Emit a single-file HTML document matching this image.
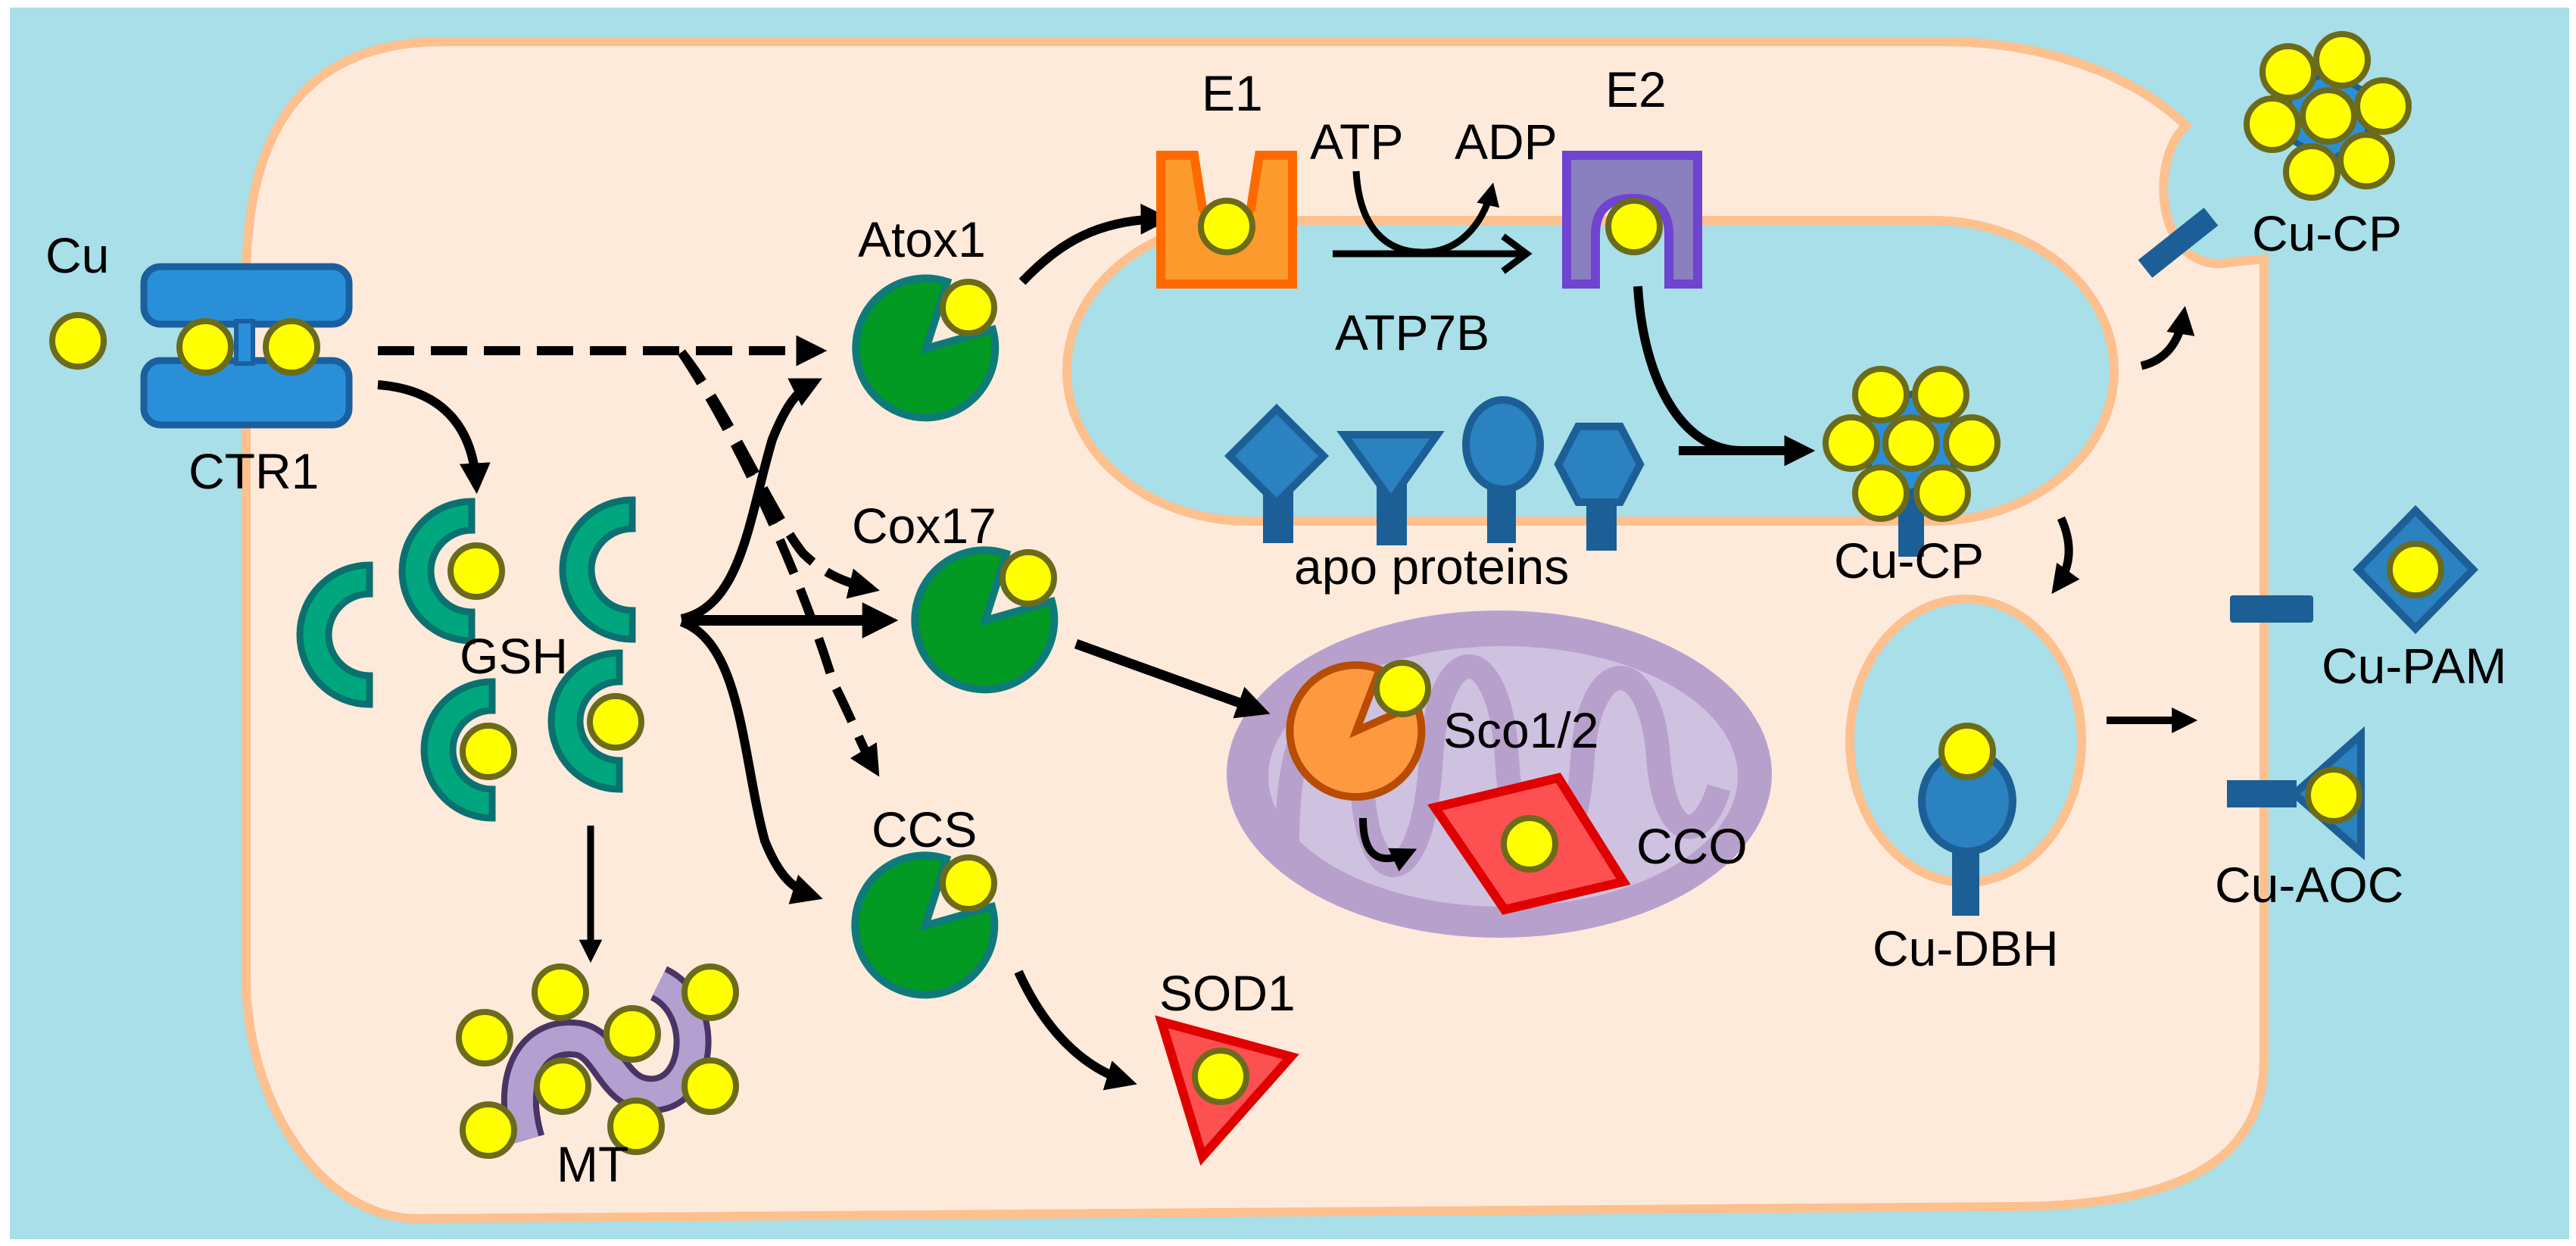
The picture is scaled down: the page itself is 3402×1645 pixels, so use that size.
<!DOCTYPE html>
<html><head><meta charset="utf-8"><style>html,body{margin:0;padding:0;background:#fff}svg{display:block}text{font-family:"Liberation Sans",Arial,sans-serif;font-size:66px;fill:#000}</style></head>
<body>
<svg width="3402" height="1645" viewBox="0 0 3402 1645" xmlns="http://www.w3.org/2000/svg">
<defs>
<marker id="ah" viewBox="0 0 10 10" refX="7" refY="5" markerWidth="3.4" markerHeight="3.4" orient="auto" markerUnits="strokeWidth"><path d="M0,0 L10,5 L0,10 z" fill="#000"/></marker>
<g id="cu"><circle r="34" fill="#ffff00" stroke="#6b6b1a" stroke-width="8"/></g>
</defs>
<rect x="0" y="0" width="3402" height="1645" fill="#fff"/>
<rect x="13" y="10" width="3380" height="1626" fill="#a8dfe8"/>
<!-- cell -->
<path d="M585,55 L2567,55 C2700,55 2820,100 2887,166 C2850,200 2845,290 2887,332 C2910,350 2930,350 2948,346 L2990,342 L2990,1397 C2990,1520 2900,1593 2654,1593 L553,1609 C420,1609 325,1450 325,1291 L325,370 C325,150 420,55 585,55 Z" fill="#feeadb" stroke="#fdc08f" stroke-width="12"/>
<!-- ER -->
<rect x="1409" y="291" width="1383" height="397" rx="240" ry="198" fill="#a8dfe8" stroke="#fdc08f" stroke-width="12"/>
<!-- mitochondrion -->
<ellipse cx="1980" cy="1022" rx="360" ry="216" fill="#b7a1cc"/>
<ellipse cx="1985" cy="1025" rx="310" ry="172" fill="#cfc2e0"/>
<path d="M1700,1110 C1700,900 1790,880 1800,1050 C1810,1180 1880,1180 1890,1000 C1900,840 1980,840 1990,1000 C2000,1180 2080,1180 2090,1000 C2100,860 2180,860 2190,1000 C2200,1120 2250,1110 2270,1040" fill="none" stroke="#b7a1cc" stroke-width="32"/>
<!-- DBH vesicle -->
<ellipse cx="2596" cy="978" rx="153" ry="187" fill="#a8dfe8" stroke="#fdc08f" stroke-width="12"/>

<!-- CTR1 -->
<rect x="190" y="352" width="271" height="76" rx="22" fill="#2a8fd9" stroke="#1a5f9e" stroke-width="9"/>
<rect x="190" y="476" width="271" height="85" rx="22" fill="#2a8fd9" stroke="#1a5f9e" stroke-width="9"/>
<rect x="312" y="424" width="22" height="56" fill="#2a8fd9" stroke="#1a5f9e" stroke-width="6"/>
<use href="#cu" x="103" y="450"/>
<use href="#cu" x="271" y="458"/>
<use href="#cu" x="385" y="458"/>
<text x="60" y="360">Cu</text>
<text x="249" y="645">CTR1</text>

<!-- arrows left -->
<path d="M499,463 L1080,463" fill="none" stroke="#000" stroke-width="12" stroke-dasharray="48 22" marker-end="url(#ah)"/>
<path d="M900,465 C960,540 1020,680 1060,730 C1090,760 1120,770 1150,777" fill="none" stroke="#000" stroke-width="12" stroke-dasharray="48 22" marker-end="url(#ah)"/>
<path d="M900,465 C990,600 1070,800 1100,900 C1130,960 1140,990 1155,1015" fill="none" stroke="#000" stroke-width="12" stroke-dasharray="48 22" marker-end="url(#ah)"/>
<path d="M499,508 C590,515 625,570 629,640" fill="none" stroke="#000" stroke-width="12" marker-end="url(#ah)"/>
<path d="M900,817 C980,800 990,680 1020,580 C1040,530 1055,515 1075,505" fill="none" stroke="#000" stroke-width="12" marker-end="url(#ah)"/>
<path d="M900,819 L1172,819" fill="none" stroke="#000" stroke-width="14" marker-end="url(#ah)"/>
<path d="M900,821 C980,850 980,1000 1010,1110 C1030,1160 1050,1175 1075,1183" fill="none" stroke="#000" stroke-width="12" marker-end="url(#ah)"/>
<path d="M780,1090 L780,1262" fill="none" stroke="#000" stroke-width="9" marker-end="url(#ah)"/>

<!-- GSH crescents -->
<g fill="#00a67e" stroke="#0b7070" stroke-width="9">
<path d="M488,746 A92,92 0 0 0 488,930 L488,892 A54,54 0 0 1 488,784 Z"/>
<path d="M623,662 A92,92 0 0 0 623,846 L623,808 A54,54 0 0 1 623,700 Z"/>
<path d="M835,660 A92,92 0 0 0 835,844 L835,806 A54,54 0 0 1 835,698 Z"/>
<path d="M650,900 A90,90 0 0 0 650,1080 L650,1042 A52,52 0 0 1 650,938 Z"/>
<path d="M818,862 A90,90 0 0 0 818,1042 L818,1004 A52,52 0 0 1 818,900 Z"/>
</g>
<use href="#cu" x="629" y="754"/>
<use href="#cu" x="645" y="992"/>
<use href="#cu" x="813" y="953"/>
<text x="607" y="889">GSH</text>

<!-- MT -->
<path d="M870,1298 C935,1330 925,1440 865,1445 C810,1450 805,1380 765,1372 C705,1362 670,1420 695,1505" fill="none" stroke="#4a3466" stroke-width="50"/>
<path d="M870,1298 C935,1330 925,1440 865,1445 C810,1450 805,1380 765,1372 C705,1362 670,1420 695,1505" fill="none" stroke="#b3a0d0" stroke-width="34"/>
<use href="#cu" x="740" y="1310"/>
<use href="#cu" x="640" y="1370"/>
<use href="#cu" x="938" y="1310"/>
<use href="#cu" x="835" y="1365"/>
<use href="#cu" x="743" y="1434"/>
<use href="#cu" x="938" y="1434"/>
<use href="#cu" x="645" y="1492"/>
<use href="#cu" x="840" y="1487"/>
<text x="735" y="1560">MT</text>

<!-- pacman chaperones -->
<g fill="#029a22" stroke="#0f7a7a" stroke-width="10" stroke-linejoin="miter">
<path d="M1223,460 L1311,435 A92,92 0 1 1 1251,372 Z"/>
<path d="M1301,819 L1389,794 A92,92 0 1 1 1329,731 Z"/>
<path d="M1222,1222 L1310,1197 A92,92 0 1 1 1250,1134 Z"/>
</g>
<use href="#cu" x="1279" y="406"/>
<use href="#cu" x="1358" y="763"/>
<use href="#cu" x="1279" y="1166"/>
<text x="1133" y="339">Atox1</text>
<text x="1125" y="717">Cox17</text>
<text x="1151" y="1118">CCS</text>

<path d="M1350,372 C1400,320 1450,290 1535,289" fill="none" stroke="#000" stroke-width="12" marker-end="url(#ah)"/>
<path d="M1421,850 L1665,938" fill="none" stroke="#000" stroke-width="13" marker-end="url(#ah)"/>
<path d="M1345,1283 C1380,1360 1430,1410 1490,1428" fill="none" stroke="#000" stroke-width="12" marker-end="url(#ah)"/>

<!-- SOD1 -->
<path d="M1534,1349 L1705,1395 L1588,1527 Z" fill="#fd5050" stroke="#e00000" stroke-width="12" stroke-linejoin="miter"/>
<use href="#cu" x="1612" y="1421"/>
<text x="1531" y="1334">SOD1</text>

<!-- Sco1/2 & CCO -->
<path d="M1791,965 L1870,930 A87,87 0 1 1 1822,884 Z" fill="#fd9a40" stroke="#b84c00" stroke-width="10"/>
<use href="#cu" x="1852" y="909"/>
<text x="1906" y="987">Sco1/2</text>
<path d="M1895,1066 L2058,1027 L2144,1164 L1987,1201 Z" fill="#fd5050" stroke="#e00000" stroke-width="12"/>
<use href="#cu" x="2020" y="1114"/>
<text x="2161" y="1140">CCO</text>
<path d="M1800,1080 C1800,1140 1830,1140 1862,1125" fill="none" stroke="#000" stroke-width="10" marker-end="url(#ah)"/>

<!-- E1 / E2 -->
<path d="M1533,205 L1577,205 L1588,275 Q1620,330 1652,275 L1663,205 L1707,205 L1707,375 L1533,375 Z" fill="#fd9a2e" stroke="#ff6a00" stroke-width="12"/>
<use href="#cu" x="1620" y="299"/>
<text x="1587" y="146">E1</text>
<path d="M2069,205 L2242,205 L2242,375 L2204,375 L2204,310 Q2204,262 2156,262 Q2107,262 2107,310 L2107,375 L2069,375 Z" fill="#8a7fbf" stroke="#6e44d0" stroke-width="12"/>
<use href="#cu" x="2158" y="299"/>
<text x="2120" y="141">E2</text>
<text x="1730" y="210">ATP</text>
<text x="1921" y="210">ADP</text>
<path d="M1791,226 C1795,300 1830,335 1883,333 C1935,331 1962,285 1970,250" fill="none" stroke="#000" stroke-width="9" marker-end="url(#ah)"/>
<path d="M1760,335 L2015,335 M1985,312 L2016,335 L1985,358" fill="none" stroke="#000" stroke-width="9"/>
<text x="1763" y="462">ATP7B</text>

<!-- apo proteins -->
<g fill="#2a82c0" stroke="#1c5f96" stroke-width="10">
<rect x="1673" y="640" width="30" height="72" fill="#1c5f96"/>
<rect x="1823" y="640" width="30" height="75" fill="#1c5f96"/>
<rect x="1969" y="630" width="28" height="82" fill="#1c5f96"/>
<rect x="2100" y="650" width="30" height="72" fill="#1c5f96"/>
<polygon points="1686,540 1748,602 1686,664 1624,602"/>
<polygon points="1775,574 1898,574 1837,660"/>
<ellipse cx="1985" cy="587" rx="49" ry="59"/>
<polygon points="2084,563 2140,563 2166,613 2140,663 2084,663 2058,613"/>
</g>
<text x="1709" y="771">apo proteins</text>
<path d="M2163,378 C2170,500 2220,595 2300,595" fill="none" stroke="#000" stroke-width="12"/>
<path d="M2217,595 L2385,595" fill="none" stroke="#000" stroke-width="12" marker-end="url(#ah)"/>

<!-- Cu-CP in ER -->
<rect x="2507" y="640" width="34" height="95" fill="#1c5f96"/>
<polygon points="2524,520 2580,552 2580,618 2524,650 2468,618 2468,552" fill="#2a8fd9" stroke="#1c5f96" stroke-width="8"/>
<use href="#cu" x="2484" y="521"/><use href="#cu" x="2563" y="521"/>
<use href="#cu" x="2445" y="585"/><use href="#cu" x="2524" y="585"/><use href="#cu" x="2604" y="585"/>
<use href="#cu" x="2484" y="651"/><use href="#cu" x="2565" y="651"/>
<text x="2422" y="763">Cu-CP</text>

<!-- secreted Cu-CP -->
<line x1="2833" y1="355" x2="2920" y2="286" stroke="#1c5f96" stroke-width="30"/>
<polygon points="3075,93 3127,123 3127,183 3075,213 3023,183 3023,123" fill="#2a8fd9" stroke="#1c5f96" stroke-width="8"/>
<use href="#cu" x="3022" y="95"/><use href="#cu" x="3093" y="79"/><use href="#cu" x="3147" y="140"/>
<use href="#cu" x="3001" y="164"/><use href="#cu" x="3075" y="153"/><use href="#cu" x="3125" y="212"/><use href="#cu" x="3053" y="227"/>
<text x="2974" y="331">Cu-CP</text>
<path d="M2828,483 Q2875,472 2884,415" fill="none" stroke="#000" stroke-width="11" marker-end="url(#ah)"/>
<path d="M2722,684 Q2745,735 2716,775" fill="none" stroke="#000" stroke-width="11" marker-end="url(#ah)"/>

<!-- DBH -->
<rect x="2578" y="1100" width="36" height="109" fill="#1c5f96"/>
<ellipse cx="2598" cy="1058" rx="60" ry="66" fill="#2a82c0" stroke="#1c5f96" stroke-width="10"/>
<use href="#cu" x="2598" y="992"/>
<text x="2473" y="1275">Cu-DBH</text>
<path d="M2782,951 L2892,951" fill="none" stroke="#000" stroke-width="10" marker-end="url(#ah)"/>

<!-- PAM / AOC -->
<rect x="2945" y="786" width="110" height="36" rx="4" fill="#1c5f96"/>
<polygon points="3190,674 3266,752 3190,830 3114,752" fill="#2a82c0" stroke="#1c5f96" stroke-width="10"/>
<use href="#cu" x="3190" y="752"/>
<text x="3066" y="902">Cu-PAM</text>
<rect x="2941" y="1030" width="92" height="36" fill="#1c5f96"/>
<polygon points="3030,1048 3118,970 3118,1125" fill="#2a82c0" stroke="#1c5f96" stroke-width="10"/>
<use href="#cu" x="3082" y="1050"/>
<text x="2925" y="1191">Cu-AOC</text>
</svg>
</body></html>
